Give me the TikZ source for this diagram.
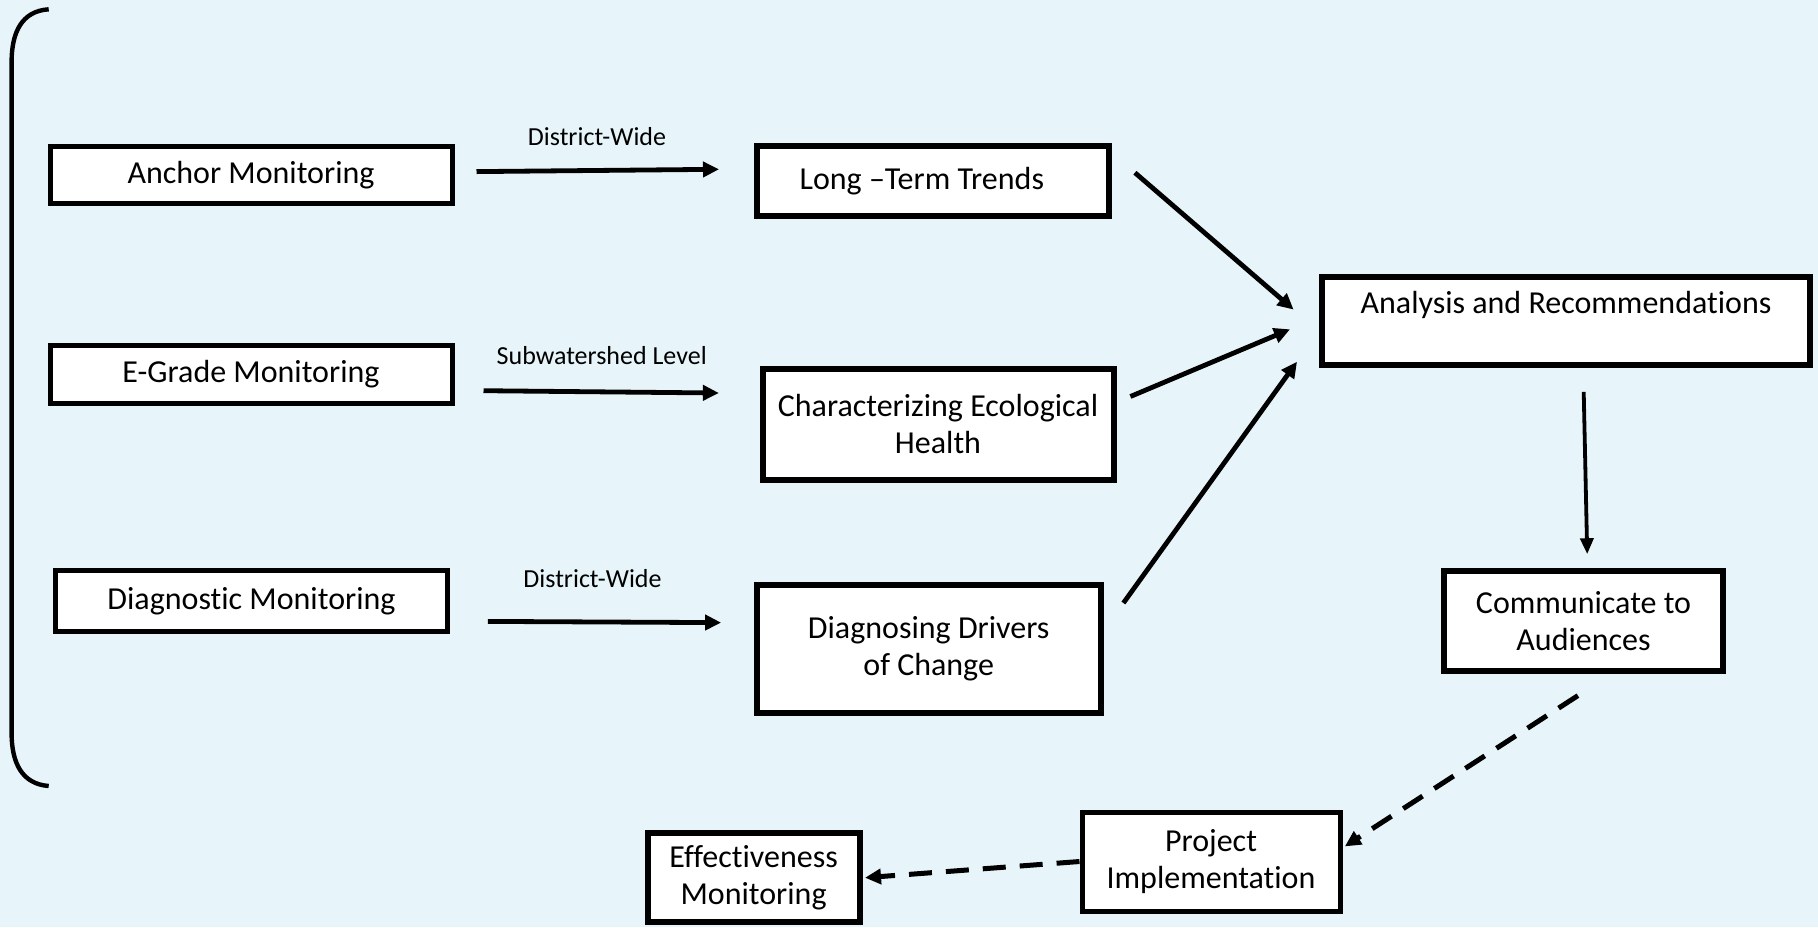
\documentclass[tikz,border=0pt]{standalone}
\usepackage{fontspec}
\setmainfont{Carlito}[Ligatures=NoCommon]
\usetikzlibrary{arrows.meta}
\definecolor{bgblue}{RGB}{231,245,250}
\begin{document}
\begin{tikzpicture}[x=0.5pt,y=-0.5pt,
  box/.style={draw=black, fill=white, line width=3pt, align=center, inner sep=0pt,
    font=\fontsize{16}{18.5}\selectfont},
  thinbox/.style={box, line width=2.5pt},
  flow/.style={line width=2.4pt, -{Triangle[length=8pt,width=7.5pt]}},
  thinflow/.style={line width=1.9pt, -{Triangle[length=8pt,width=6.5pt]}},
  dashflow/.style={line width=2.5pt, dash pattern=on 11.5pt off 7pt, -{Triangle[length=8pt,width=7.5pt]}},
  tag/.style={font=\fontsize{13}{15}\selectfont, inner sep=0pt}
]
% canvas
\fill[bgblue] (0,0) rectangle (1818,927);
\useasboundingbox (0,0) rectangle (1818,927);

% bracket grouping the monitoring programmes
\draw[line width=2.2pt] (48.7,9.3) .. controls (22,11) and (11.6,32) .. (11.6,62)
  -- (11.6,733) .. controls (11.6,763) and (22,784) .. (48.7,786);

% monitoring programmes
\node[thinbox, minimum width=201pt, minimum height=28.8pt] (anchor) at (251,175.1) {Anchor Monitoring};
\node[thinbox, minimum width=201pt, minimum height=28.8pt] (egrade) at (251,374.4) {E-Grade Monitoring};
\node[thinbox, minimum width=195.7pt, minimum height=30.5pt] (diag) at (251.5,601) {Diagnostic Monitoring};

% outcomes
\node[box, minimum width=176pt, minimum height=35.3pt] (long) at (932.8,180.9) {Long --Term Trends\hspace*{11pt}};
\node[box, minimum width=175.5pt, minimum height=55.5pt] (char) at (938,424) {Characterizing Ecological\\Health};
\node[box, minimum width=172pt, minimum height=64.3pt] (drivers) at (928.7,649) {Diagnosing Drivers\\of Change};

% synthesis and follow-up
\node[box, minimum width=244pt, minimum height=44pt] (analysis) at (1566,320.5) {Analysis and Recommendations\\\mbox{}};
\node[box, minimum width=139.5pt, minimum height=49.8pt] (comm) at (1583.5,620.8) {Communicate to\\Audiences};
\node[thinbox, minimum width=129pt, minimum height=49.5pt] (project) at (1211,861.5) {Project\\Implementation};
\node[box, minimum width=106pt, minimum height=44.5pt] (eff) at (753.6,877.5) {Effectiveness\\Monitoring};

% scale labels
\node[tag] (t1) at (597,136.8) {District-Wide};
\node[tag] (t2) at (601.7,356) {Subwatershed Level};
\node[tag] (t3) at (592.5,578.5) {District-Wide};

% connectors
\draw[flow] ([xshift=11pt,yshift=1.75pt]anchor.east) -- ([xshift=-17.4pt,yshift=5.8pt]long.west);
\draw[flow] ([xshift=14.5pt,yshift=-8.15pt]egrade.east) -- ([xshift=-20.3pt,yshift=15.5pt]char.west);
\draw[flow] ([xshift=19.1pt,yshift=-10.2pt]diag.east) -- ([xshift=-16.3pt,yshift=13.2pt]drivers.west);

\draw[flow] ([xshift=11.55pt,yshift=4.1pt]long.east) -- ([xshift=-12.7pt,yshift=5.45pt]analysis.west);
\draw[flow] ([xshift=6.95pt,yshift=13.75pt]char.east) -- ([xshift=-14.5pt,yshift=-4.4pt]analysis.west);
\draw[flow] ([xshift=9.85pt,yshift=23pt]drivers.east) -- ([xshift=-11pt,yshift=-20.6pt]analysis.west);

\draw[thinflow] ([xshift=8.85pt,yshift=-12.2pt]analysis.south) -- ([xshift=1.85pt,yshift=6.9pt]comm.north);

\draw[dashflow] ([xshift=-2.8pt,yshift=-11pt]comm.south) -- ([xshift=1.15pt,yshift=7.55pt]project.east);
\draw[dashflow] (project.west) -- ([xshift=1.2pt,yshift=-0.1pt]eff.east);
\end{tikzpicture}
\end{document}
